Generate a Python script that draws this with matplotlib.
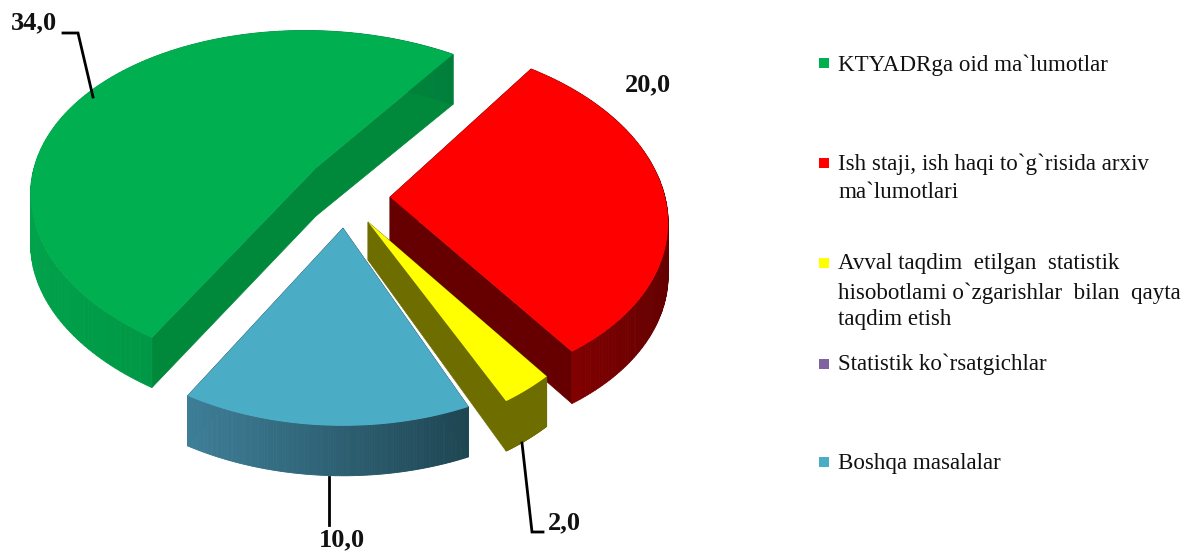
import numpy as np
import matplotlib
matplotlib.use("Agg")
import matplotlib.pyplot as plt
from matplotlib.colors import to_rgb

categories = ["KTYADRga oid ma`lumotlar",
              "Ish staji, ish haqi to`g`risida arxiv\nma`lumotlari",
              "Avval taqdim  etilgan  statistik\nhisobotlami o`zgarishlar  bilan  qayta\ntaqdim etish",
              "Statistik ko`rsatgichlar",
              "Boshqa masalalar"]
values = [34.0, 20.0, 2.0, 0.0, 10.0]
value_labels = ["34,0", "20,0", "2,0", "", "10,0"]
colors = ["#00B050", "#FF0000", "#FFFF00", "#8064A2", "#4BACC6"]

# layout of each exploded slice (pixels): apex, radii, perspective, shear, rotation, depth at apex / rim
geom = [
    dict(ax=316, ay=168, A=282, B=165, p=.20, sh=.08, rot=-3.5, d0=48, d1=50),
    dict(ax=390, ay=197, A=275, B=172, p=.10, sh=.08, rot=-4, d0=48, d1=52),
    dict(ax=368, ay=222, A=252, B=189, p=.10, sh=.00, rot=-10.5, d0=38, d1=50),
    dict(ax=343, ay=228, A=280, B=178, p=.10, sh=.00, rot=-4.5, d0=48, d1=50),
    dict(ax=343, ay=228, A=280, B=178, p=.10, sh=.00, rot=-4.5, d0=48, d1=50),
]
wall_colors = [("#00A24A", "#007F3B", "#00883B"),
               ("#8E0000", "#640000", "#660000"),
               ("#6E6E00", "#6E6E00", "#6E6E00"),
               ("#4A3A60", "#4A3A60", "#4A3A60"),
               ("#3E7F98", "#1E4552", "#2A5A6A")]
start_angle = -235.0
draw_order = [0, 1, 4, 2]
legend_y = [63, 163, 263, 364, 462]
legend_line_y = [[65], [164, 193], [264, 293, 320], [364], [463]]
label_pos = [(34, 23), (648, 85), (564, 523), None, (342, 540)]
leaders = [[(63, 33), (78, 33), (93, 97)], None,
           [(522, 443), (532, 532), (543, 532)], None,
           [(329, 477), (329, 525)]]

fig = plt.figure(figsize=(11.90, 5.51), dpi=100)
ax = fig.add_axes([0, 0, 1, 1])
ax.set_xlim(0, 1190)
ax.set_ylim(551, 0)
ax.axis("off")


def proj(g, t):
    c, s = np.cos(t), np.sin(t)
    w = 1 - g["p"] * s
    y = g["B"] * s / w
    x = g["A"] * c / w + g["sh"] * y
    return g["ax"] + x, g["ay"] + y


total = sum(values)
edges = np.radians(start_angle + np.cumsum([0] + values) / total * 360)

for i in draw_order:
    g = geom[i]
    rot = np.radians(g["rot"])
    t = np.linspace(edges[i] + rot, edges[i + 1] + rot, 160)
    x, y = proj(g, t)
    d = g["d1"]
    cl, cr, ci = wall_colors[i]
    # straight walls
    for tt in (t[0], t[-1]):
        ex, ey = proj(g, tt)
        ax.fill([g["ax"], ex, ex, g["ax"]],
                [g["ay"], ey, ey + d, g["ay"] + g["d0"]],
                color=ci, lw=0.5, zorder=1)
    # curved wall, shaded from one side to the other
    span = (x.max() - x.min()) or 1
    for k in range(len(t) - 1):
        f = np.clip((x[k] - x.min()) / span, 0, 1)
        rgb = (1 - f) * np.array(to_rgb(cl)) + f * np.array(to_rgb(cr))
        ax.fill([x[k], x[k + 1], x[k + 1], x[k]],
                [y[k], y[k + 1], y[k + 1] + d, y[k] + d],
                color=rgb, lw=0.6, zorder=1)
    # top face
    ax.fill(np.r_[g["ax"], x], np.r_[g["ay"], y], color=colors[i], lw=0, zorder=1)

serif = "Liberation Serif"
for pts in leaders:
    if pts:
        ax.plot(*zip(*pts), color="black", lw=2.0, zorder=3, solid_joinstyle="miter")
for lab, pos in zip(value_labels, label_pos):
    if pos:
        ax.text(*pos, lab, family=serif, weight="bold", fontsize=19,
                ha="center", va="center", color="#111111", zorder=4)

for cat, col, my, ys in zip(categories, colors, legend_y, legend_line_y):
    ax.scatter([824], [my], marker="s", s=62, color=col, lw=0, zorder=3)
    for line, ly in zip(cat.split("\n"), ys):
        ax.text(838, ly, line, family=serif, fontsize=16.6,
                ha="left", va="center", color="#111111", zorder=4)

fig.savefig("out.png", dpi=100)
